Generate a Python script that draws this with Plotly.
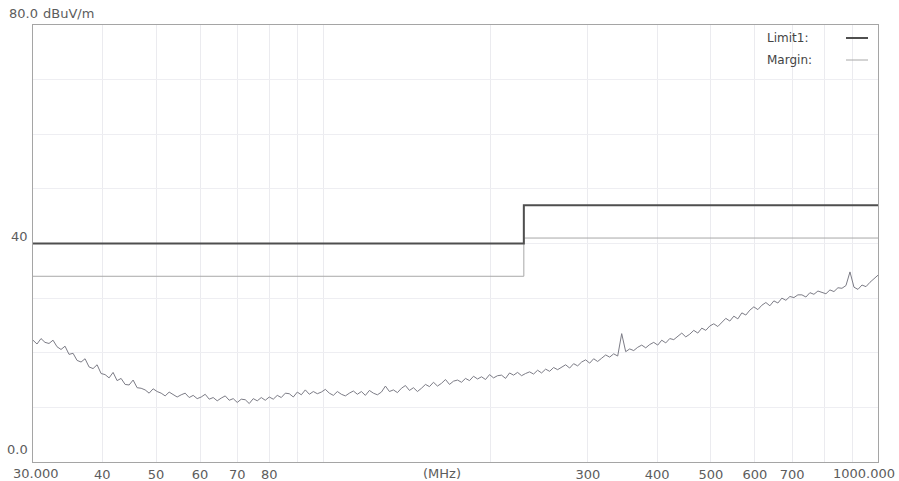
import numpy as np
import plotly.graph_objects as go

# Limit line and margin (dBuV/m), stepped at the band edge
limit_freq = [30, 230, 230, 1000]
limit_level = [40, 40, 47, 47]
margin_level = [34, 34, 41, 41]

# Measured field strength sweep (dBuV/m), log-spaced points 30 MHz - 1 GHz
trace_level = [
    22.3, 21.6, 22.6, 21.9, 21.7, 22.3, 21.1, 20.6, 21.2, 19.7,
    19.9, 18.6, 18.3, 18.9, 17.4, 17.1, 17.8, 16.2, 16.0, 15.4,
    16.4, 14.9, 15.3, 14.2, 14.1, 15.0, 13.6, 13.5, 13.2, 12.6,
    13.4, 12.9, 12.6, 12.1, 12.8, 12.3, 11.9, 12.3, 12.6, 11.8,
    12.2, 11.6, 11.9, 12.4, 11.5, 11.8, 11.2, 11.7, 12.1, 11.3,
    11.6, 10.9, 11.5, 11.4, 10.7, 11.6, 11.2, 11.8, 11.3, 11.9,
    11.5, 12.2, 11.8, 12.6, 12.5, 11.9, 12.8, 12.3, 13.2, 12.4,
    12.9, 12.5, 12.8, 13.3, 12.6, 12.2, 12.9, 12.4, 12.1, 12.6,
    13.0, 12.4, 12.9, 12.2, 13.1, 12.6, 12.3, 12.8, 13.9, 12.9,
    13.2, 12.7, 13.5, 14.0, 13.1, 13.6, 12.9, 13.5, 14.2, 13.8,
    14.6, 13.9, 14.4, 15.1, 14.2, 14.8, 15.0, 14.6, 15.3, 14.9,
    15.7, 15.2, 15.6, 15.1, 16.0, 15.4, 15.8, 15.9, 15.3, 16.3,
    15.9, 16.4, 15.8, 16.2, 16.5, 16.1, 16.8, 16.3, 17.0, 16.6,
    17.3, 16.9, 17.4, 17.8, 17.2, 18.0, 17.6, 18.3, 18.7, 18.1,
    18.9, 18.4, 19.0, 19.6, 19.2, 19.8, 19.4, 23.5, 20.2, 20.7,
    20.4, 21.0, 21.4, 20.9, 21.5, 21.9, 21.4, 22.3, 21.8, 22.6,
    22.4, 23.0, 23.6, 22.9, 23.4, 24.1, 23.6, 24.5, 24.1, 24.9,
    25.3, 24.8, 25.6, 26.3, 25.8, 26.7, 26.2, 27.3, 26.9, 27.8,
    28.4, 27.9, 28.7, 29.2, 28.6, 29.5, 29.1, 30.0, 29.6, 30.3,
    30.1, 30.6, 30.6, 30.2, 31.0, 30.7, 31.3, 31.1, 30.8, 31.5,
    31.2, 31.9, 31.8, 32.3, 34.8, 32.0, 31.6, 32.4, 32.1, 32.9,
    33.5, 34.2,
]
trace_freq = np.geomspace(30, 1000, len(trace_level))

# Frequency grid and its labels
grid_freq = [40, 50, 60, 70, 80, 90, 100, 200, 300, 400, 500, 600, 700, 800, 900]
grid_text = ["40", "50", "60", "70", "80", "", "", "", "300", "400", "500", "600", "700", "", ""]

FONT = "DejaVu Sans"
TXT = "#5c5c5c"

fig = go.Figure()
fig.add_trace(go.Scatter(x=trace_freq, y=trace_level, mode="lines",
                         line=dict(color="#7c7c86", width=1), showlegend=False))
fig.add_trace(go.Scatter(x=limit_freq, y=margin_level, mode="lines",
                         line=dict(color="#a8a8a8", width=1), showlegend=False))
fig.add_trace(go.Scatter(x=limit_freq, y=limit_level, mode="lines",
                         line=dict(color="#4f4f4f", width=2), showlegend=False))

fig.update_xaxes(type="log", range=[np.log10(30), np.log10(1000)],
                 tickvals=grid_freq, ticktext=grid_text, ticks="",
                 automargin=False,
                 showgrid=True, gridcolor="#ebebef", gridwidth=1,
                 showline=True, linecolor="#a5a5a5", mirror=True, zeroline=False,
                 tickfont=dict(family=FONT, size=13, color=TXT))
fig.update_yaxes(range=[0, 80], tickvals=list(range(0, 81, 10)),
                 showticklabels=False, ticks="", automargin=False,
                 showgrid=True, gridcolor="#eeeef2", gridwidth=1,
                 showline=True, linecolor="#a5a5a5", mirror=True, zeroline=False)

W, H = 899, 481
L, R, T, B = 33, 878, 25, 462


def px(x):
    return (x - L) / (R - L)


def py(y):
    return (B - y) / (B - T)


ann = [
    ("80.0", 7, 13, "left"), ("dBuV/m", 41, 13, "left"),
    ("40", 19, 236, "center"), ("0.0", 17, 449, "center"),
    ("30.000", 36, 473, "center"), ("(MHz)", 442, 473, "center"),
    ("1000.000", 864, 473, "center"),
]
annotations = [dict(text=t, x=px(x), y=py(y), xref="paper", yref="paper",
                    xanchor=a, yanchor="middle", showarrow=False,
                    font=dict(family=FONT, size=13, color=TXT))
               for t, x, y, a in ann]
annotations += [
    dict(text="Limit1:", x=px(765), y=py(38), xref="paper", yref="paper",
         xanchor="left", yanchor="middle", showarrow=False,
         font=dict(family=FONT, size=12, color="#444444")),
    dict(text="Margin:", x=px(765), y=py(60), xref="paper", yref="paper",
         xanchor="left", yanchor="middle", showarrow=False,
         font=dict(family=FONT, size=12, color="#444444")),
]
shapes = [
    dict(type="line", xref="paper", yref="paper", x0=px(846), x1=px(868),
         y0=py(38), y1=py(38), line=dict(color="#4f4f4f", width=2)),
    dict(type="line", xref="paper", yref="paper", x0=px(846), x1=px(868),
         y0=py(60), y1=py(60), line=dict(color="#a8a8a8", width=1)),
]

fig.update_layout(width=W, height=H, autosize=False,
                  margin=dict(l=L, r=W - R, t=T, b=H - B, pad=0),
                  paper_bgcolor="white", plot_bgcolor="white",
                  annotations=annotations, shapes=shapes, showlegend=False)

fig.write_html("out.html")
